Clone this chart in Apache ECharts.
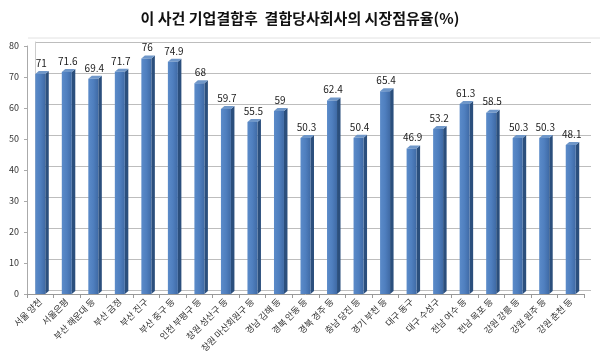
<!DOCTYPE html>
<html><head><meta charset="utf-8">
<script src="https://cdn.jsdelivr.net/npm/echarts@6/dist/echarts.min.js"></script>
<style>html,body{margin:0;padding:0;background:#fff}#c{width:600px;height:360px}</style>
</head><body><div id="c"></div>
<script>
const titleText = '이 사건 기업결합후  결합당사회사의 시장점유율(%)';
const categories = ['서울 양천','서울은평','부산 해운대 등','부산 금정','부산 진구','부산 중구 등','인천 부평구 등','창원 성산구 등','창원 마산회원구 등','경남 김해 등','경북 안동 등','경북 경주 등','충남 당진 등','경기 부천 등','대구 동구','대구 수성구','전남 여수 등','전남 목포 등','강원 강릉 등','강원 원주 등','강원 춘천 등'];
const shares = [71,71.6,69.4,71.7,76,74.9,68,59.7,55.5,59,50.3,62.4,50.4,65.4,46.9,53.2,61.3,58.5,50.3,50.3,48.1];
const yTicks = {min:0, max:80, interval:10};

const font = '"Noto Sans CJK KR", "Noto Sans", sans-serif';
const chart = echarts.init(document.getElementById('c'), null, {renderer:'canvas'});
const barData = shares.map((v,i)=>[i,v]);
chart.setOption({
  animation:false,
  title:{text:titleText,left:'center',top:6,textStyle:{fontFamily:font,fontSize:15,fontWeight:'bold',color:'#111'}},
  graphic:[{type:'line',shape:{x1:28,y1:38,x2:600,y2:38},style:{stroke:'#e2e2e2',lineWidth:1}}],
  grid:[
    {left:27,right:16,top:46,bottom:66},
    {left:35,right:9,top:42,bottom:70}
  ],
  xAxis:[
    {type:'category',gridIndex:0,data:categories,
     axisLine:{lineStyle:{color:'#999'}},
     axisTick:{show:true,length:4,lineStyle:{color:'#999'}},
     axisLabel:{rotate:45,fontSize:9,color:'#333',fontFamily:font,margin:6,interval:0}},
    {type:'category',gridIndex:1,data:categories,show:false}
  ],
  yAxis:[
    {type:'value',gridIndex:0,min:yTicks.min,max:yTicks.max,interval:yTicks.interval,
     axisLine:{show:true,lineStyle:{color:'#aaa'}},
     axisTick:{show:true,length:3,lineStyle:{color:'#aaa'}},
     splitLine:{show:false},
     axisLabel:{fontSize:9,color:'#333',fontFamily:font,margin:8}},
    {type:'value',gridIndex:1,min:yTicks.min,max:yTicks.max,interval:yTicks.interval,
     axisLine:{show:true,lineStyle:{color:'#ccc'}},axisTick:{show:false},axisLabel:{show:false},
     splitLine:{show:true,lineStyle:{color:'#bdbdbd',width:1}}}
  ],
  series:[
    {type:'custom',xAxisIndex:0,yAxisIndex:0,data:barData,
     renderItem:function(params,api){
       const x=api.value(0), v=api.value(1);
       const top=api.coord([x,v]), base=api.coord([x,0]);
       const w=10, d=3.5, dy=3;
       const l=top[0]-w/2, r=top[0]+w/2;
       return {type:'group',children:[
         {type:'polygon',shape:{points:[[r,top[1]],[r+d,top[1]-dy],[r+d,base[1]-dy],[r,base[1]]]},style:{fill:'#2b4f7d'}},
         {type:'polygon',shape:{points:[[l,top[1]],[l+d,top[1]-dy],[r+d,top[1]-dy],[r,top[1]]]},style:{fill:'#6f97c9'}},
         {type:'rect',shape:{x:l,y:top[1],width:w,height:base[1]-top[1]},
          style:{fill:new echarts.graphic.LinearGradient(0,0,1,0,[{offset:0,color:'#5b8bc9'},{offset:0.5,color:'#4f7fbf'},{offset:1,color:'#3f6aa5'}])}},
         {type:'text',style:{text:String(v),x:top[0]+1,y:top[1]-dy-3,align:'center',verticalAlign:'bottom',fontSize:10,fill:'#222',fontFamily:font}}
       ]};
     }}
  ]
});
</script></body></html>
